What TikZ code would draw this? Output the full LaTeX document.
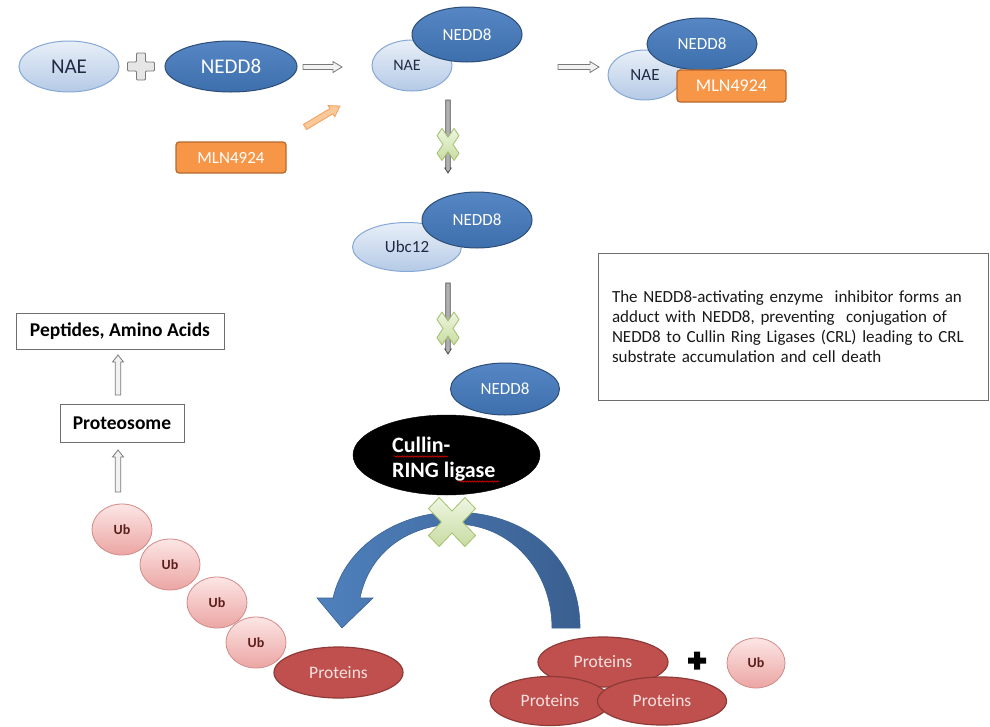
\documentclass[tikz,border=0pt]{standalone}
\usepackage{fontspec}
\setmainfont{Carlito}
\usetikzlibrary{shapes.geometric,calc,decorations.pathmorphing}

\definecolor{lbtop}{HTML}{E8EFF8}
\definecolor{lbbot}{HTML}{B5CAE6}
\definecolor{lbdraw}{HTML}{86A8D6}
\definecolor{navytext}{HTML}{1F2A44}
\definecolor{neddtop}{HTML}{5687C4}
\definecolor{neddbot}{HTML}{3E6FAD}
\definecolor{nedddraw}{HTML}{2C4D78}
\definecolor{ubtop}{HTML}{FCE6E5}
\definecolor{ubbot}{HTML}{EBA5A3}
\definecolor{ubdraw}{HTML}{D38B89}
\definecolor{ubtext}{HTML}{5C1E1D}
\definecolor{protfill}{HTML}{C0504D}
\definecolor{protdraw}{HTML}{8E3A38}
\definecolor{prottext}{HTML}{F5E2E1}
\definecolor{mlnfill}{HTML}{F79646}
\definecolor{mlndraw}{HTML}{B8692E}
\definecolor{boxdraw}{HTML}{6E6E6E}
\definecolor{hadraw}{HTML}{7A7A7A}
\definecolor{hafill}{HTML}{F2F2F2}
\definecolor{gadraw}{HTML}{4D4D4D}
\definecolor{gafill}{HTML}{B0B0B0}
\definecolor{oadraw}{HTML}{F0A060}
\definecolor{oafill}{HTML}{FBC899}
\definecolor{xdraw}{HTML}{A3C16A}
\definecolor{xtop}{HTML}{EEF5E1}
\definecolor{xbot}{HTML}{C9DCA2}
\definecolor{arcleft}{HTML}{4F81BD}
\definecolor{arcright}{HTML}{3A5F90}
\definecolor{arcdraw}{HTML}{3A6296}
\definecolor{plusfill}{HTML}{E6E6E6}

\newcommand{\blockarr}[6]{%
  \coordinate (ba-h) at ($(#3)!#6!(#2)$);
  \path[#1] ($(#2)!#4!90:(#3)$) -- ($(ba-h)!#4!90:(#3)$) -- ($(ba-h)!#5!90:(#3)$) -- (#3)
    -- ($(ba-h)!#5!-90:(#3)$) -- ($(ba-h)!#4!-90:(#3)$) -- ($(#2)!#4!-90:(#3)$) -- cycle;
}
\newcommand{\xcrosspath}{(-0.55,-1) -- (0,-0.45) -- (0.55,-1) -- (1,-0.55) -- (0.45,0) -- (1,0.55)
  -- (0.55,1) -- (0,0.45) -- (-0.55,1) -- (-1,0.55) -- (-0.45,0) -- (-1,-0.55) -- cycle}

\tikzset{
  lightell/.style={ellipse, draw=lbdraw, line width=1pt, top color=lbtop, bottom color=lbbot, inner sep=0pt, text=navytext},
  nedd/.style={ellipse, draw=nedddraw, line width=1pt, top color=neddtop, bottom color=neddbot, inner sep=0pt, text=white},
  ubell/.style={ellipse, draw=ubdraw, line width=0.8pt, top color=ubtop, bottom color=ubbot, inner sep=0pt, text=ubtext,
    font=\fontsize{14}{16}\selectfont\bfseries, minimum width=60pt, minimum height=51pt},
  prot/.style={ellipse, draw=protdraw, line width=1.2pt, fill=protfill, text=prottext, inner sep=0pt, font=\fontsize{17.5}{20}\selectfont},
  mln/.style={rectangle, rounded corners=3pt, draw=mlndraw, line width=1.2pt, fill=mlnfill, text=white, inner sep=0pt},
  labelbox/.style={rectangle, draw=boxdraw, line width=0.9pt, fill=white, inner sep=0pt, font=\fontsize{19.5}{22}\selectfont\bfseries},
  hollowarrow/.style={draw=hadraw, fill=hafill, line width=0.8pt},
  greyarrow/.style={draw=gadraw, fill=gafill, line width=0.8pt},
  orangearrow/.style={draw=oadraw, fill=oafill, line width=0.8pt},
  xmarkstyle/.style={draw=xdraw, top color=xtop, bottom color=xbot, line width=0.8pt, line join=round},
  pluslook/.style={draw=hadraw, fill=plusfill, line width=0.9pt, rounded corners=1pt},
  wavy/.style={draw=red, line width=0.5pt, decorate, decoration={snake, amplitude=0.7pt, segment length=2.5pt}},
}

\begin{document}
\begin{tikzpicture}[x=1pt,y=-1pt]
\useasboundingbox (0,0) rectangle (990,726);
\fill[white] (0,0) rectangle (990,726);

% ---- top row ----
\node[lightell, minimum width=100pt, minimum height=51pt, font=\fontsize{21}{24}\selectfont] (nae1) at (69,66.5) {NAE};
\begin{scope}[shift={(141,66.5)}]
  \path[pluslook] (-4.5,-13.5) -- (4.5,-13.5) -- (4.5,-4.5) -- (13.5,-4.5) -- (13.5,4.5) -- (4.5,4.5)
    -- (4.5,13.5) -- (-4.5,13.5) -- (-4.5,4.5) -- (-13.5,4.5) -- (-13.5,-4.5) -- (-4.5,-4.5) -- cycle;
\end{scope}
\node[nedd, minimum width=132pt, minimum height=51pt, font=\fontsize{21}{24}\selectfont] (nedd1) at (231,66.5) {NEDD8};

\coordinate (a1s) at (303,67);
\coordinate (a1e) at (342,67);
\blockarr{hollowarrow}{a1s}{a1e}{2.5pt}{5.5pt}{9pt}

\node[lightell, minimum width=80pt, minimum height=51pt, font=\fontsize{16}{19}\selectfont] (nae2) at (412,65.5) {\hspace*{-10pt}NAE};
\node[nedd, minimum width=110pt, minimum height=55pt, font=\fontsize{17}{20}\selectfont] (nedd2) at (467,34.5) {NEDD8};

\coordinate (a2s) at (558,67);
\coordinate (a2e) at (599,67);
\blockarr{hollowarrow}{a2s}{a2e}{2.5pt}{5.5pt}{9pt}

\node[lightell, minimum width=74pt, minimum height=50pt, font=\fontsize{17}{20}\selectfont] (nae3) at (645,75) {NAE};
\node[nedd, minimum width=110pt, minimum height=52pt, font=\fontsize{17}{20}\selectfont] (nedd3) at (702,44) {NEDD8};
\node[mln, minimum width=109pt, minimum height=32pt, font=\fontsize{18}{21}\selectfont] (mln2) at (731.5,86) {MLN4924};

\node[mln, minimum width=110pt, minimum height=31pt, font=\fontsize{17}{20}\selectfont] (mln1) at (231,157.5) {MLN4924};
\coordinate (oas) at (305,127);
\coordinate (oae) at (340,106);
\blockarr{orangearrow}{oas}{oae}{3pt}{6.5pt}{10pt}

% ---- first vertical step ----
\coordinate (g1s) at (448,100);
\coordinate (g1e) at (448,173);
\blockarr{greyarrow}{g1s}{g1e}{2.2pt}{3.2pt}{5pt}
\begin{scope}[shift={(448,144.5)}, xscale=11, yscale=16]
  \path[xmarkstyle] \xcrosspath;
\end{scope}

\node[lightell, minimum width=109pt, minimum height=49pt, font=\fontsize{17}{20}\selectfont] (ubc) at (407,247) {Ubc12};
\node[nedd, minimum width=110pt, minimum height=56pt, font=\fontsize{17}{20}\selectfont] (nedd4) at (477,220) {NEDD8};

\coordinate (g2s) at (448,283);
\coordinate (g2e) at (448,354);
\blockarr{greyarrow}{g2s}{g2e}{2.2pt}{3.2pt}{5pt}
\begin{scope}[shift={(448,328.5)}, xscale=11, yscale=16.5]
  \path[xmarkstyle] \xcrosspath;
\end{scope}

\node[nedd, minimum width=109pt, minimum height=52pt, font=\fontsize{17}{20}\selectfont] (nedd5) at (505,389) {NEDD8};

% ---- Cullin-RING ligase ----
\node[ellipse, fill=black, draw=black, minimum width=187pt, minimum height=80pt, inner sep=0pt] (cullin) at (446.5,455) {};
\node[anchor=west, align=left, text=white, inner sep=0pt, font=\fontsize{22}{25}\selectfont\bfseries] (cullintext) at (392,459) {Cullin-\\RING ligase};
\path[wavy] (394,456.5) -- (448,456.5);
\path[wavy] (459,481.5) -- (499,481.5);

% ---- curved arrow ----
\path[draw=arcdraw, line width=0.6pt, left color=arcleft, right color=arcright]
  (580,628) .. controls (580,560) and (530,513) .. (455,512)
  .. controls (400,512) and (345,545) .. (333,598)
  -- (317,598) -- (342,628) -- (373,598) -- (360,598)
  .. controls (370,550) and (410,525) .. (455,524)
  .. controls (510,524) and (552,570) .. (552,628) -- cycle;

\begin{scope}[shift={(452,522)}, xscale=23.5, yscale=24.5]
  \path[xmarkstyle] \xcrosspath;
\end{scope}

% ---- left column ----
\node[labelbox, minimum width=208pt, minimum height=36pt] (pept) at (120,331) {Peptides, Amino Acids};
\node[labelbox, minimum width=124pt, minimum height=38pt] (prot) at (122,423) {Proteosome};
\coordinate (u1s) at (118,395);
\coordinate (u1e) at (118,355);
\blockarr{hollowarrow}{u1s}{u1e}{2.8pt}{5.5pt}{7pt}
\coordinate (u2s) at (118,492);
\coordinate (u2e) at (118,450);
\blockarr{hollowarrow}{u2s}{u2e}{2.8pt}{5.5pt}{7pt}

\node[ubell] (ub1) at (122,529.5) {Ub};
\node[ubell] (ub2) at (170,564.5) {Ub};
\node[ubell] (ub3) at (217,602.5) {Ub};
\node[ubell] (ub4) at (256,642.5) {Ub};
\node[prot, minimum width=129pt, minimum height=51pt] (protL) at (338.5,672.5) {Proteins};

% ---- right cluster ----
\node[prot, minimum width=130pt, minimum height=50pt] (protT) at (603,662) {Proteins};
\node[prot, minimum width=120pt, minimum height=49pt] (protBL) at (550,701) {Proteins};
\node[prot, minimum width=129pt, minimum height=48pt] (protBR) at (662,701) {Proteins};
\begin{scope}[shift={(697,660.5)}]
  \fill[black] (-3,-9) -- (3,-9) -- (3,-3) -- (9,-3) -- (9,3) -- (3,3) -- (3,9) -- (-3,9) -- (-3,3) -- (-9,3) -- (-9,-3) -- (-3,-3) -- cycle;
\end{scope}
\node[ubell, minimum width=58pt, minimum height=50pt] (ubR) at (756,663) {Ub};

% ---- text box ----
\node[rectangle, draw=boxdraw, line width=0.9pt, minimum width=390pt, minimum height=147pt, text width=362pt,
  inner xsep=14pt, inner ysep=0pt, align=left, text=black!90, font=\fontsize{17}{20}\selectfont] (info) at (793,326.5)
  {The NEDD8-activating enzyme\ \ inhibitor forms an\\adduct with NEDD8, preventing\ \ conjugation of\\NEDD8 to Cullin Ring Ligases (CRL) leading to CRL\\substrate accumulation and cell death};
\end{tikzpicture}
\end{document}
